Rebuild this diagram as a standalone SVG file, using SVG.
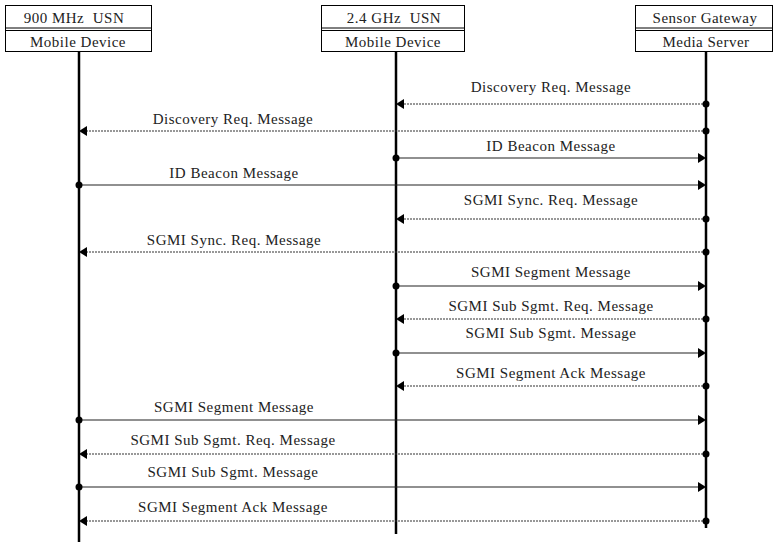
<svg xmlns="http://www.w3.org/2000/svg" width="773" height="542" viewBox="0 0 773 542">
<style>
text{font-family:"Liberation Serif","Times New Roman",serif;font-size:15px;letter-spacing:0.5px;fill:#222;text-anchor:middle}
.box{fill:#fff;stroke:#000;stroke-width:1}
.life{stroke:#000;stroke-width:2.5}
.sol{stroke:#222;stroke-width:1.2;fill:none}
.dot{stroke:#333;stroke-width:1.2;stroke-dasharray:2 1;fill:none}
.hd{fill:#000}
.dt{fill:#000}
</style>
<defs>
<path id="ar" d="M0,-5 L8,0 L0,5 Z" class="hd"/>
<path id="al" d="M0,-5 L-8,0 L0,5 Z" class="hd"/>
</defs>
<g id="node-900">
<rect class="box" x="5.5" y="5.5" width="146" height="46"/>
<line x1="5.5" y1="28" x2="151.5" y2="28" stroke="#000"/>
<line x1="5.5" y1="30.5" x2="151.5" y2="30.5" stroke="#000"/>
<text x="74" y="23" letter-spacing="0.2">900 MHz&#160; USN</text>
<text x="78" y="47">Mobile Device</text>
<line class="life" x1="79" y1="51.5" x2="79" y2="542"/>
</g>
<g id="node-24">
<rect class="box" x="321.5" y="5.5" width="143" height="46"/>
<line x1="321.5" y1="28" x2="464.5" y2="28" stroke="#000"/>
<line x1="321.5" y1="30.5" x2="464.5" y2="30.5" stroke="#000"/>
<text x="394" y="23" letter-spacing="0.2">2.4 GHz&#160; USN</text>
<text x="393" y="47">Mobile Device</text>
<line class="life" x1="396" y1="51.5" x2="396" y2="534"/>
</g>
<g id="node-gw">
<rect class="box" x="635.5" y="5.5" width="137" height="46"/>
<line x1="635.5" y1="28" x2="772.5" y2="28" stroke="#000"/>
<line x1="635.5" y1="30.5" x2="772.5" y2="30.5" stroke="#000"/>
<text x="705" y="23">Sensor Gateway</text>
<text x="706" y="47">Media Server</text>
<line class="life" x1="706" y1="51.5" x2="706" y2="528"/>
</g>
<g id="connectors">
<line class="dot" x1="706" y1="104" x2="404" y2="104"/><use href="#al" x="404" y="104"/><circle class="dt" cx="706" cy="104" r="3.5"/>
<text x="551" y="92">Discovery Req. Message</text>
<line class="dot" x1="706" y1="131" x2="87" y2="131"/><use href="#al" x="87" y="131"/><circle class="dt" cx="706" cy="131" r="3.5"/>
<text x="233" y="124">Discovery Req. Message</text>
<line class="sol" x1="396" y1="158" x2="698" y2="158"/><use href="#ar" x="698" y="158"/><circle class="dt" cx="396" cy="158" r="3.5"/>
<text x="551" y="151">ID Beacon Message</text>
<line class="sol" x1="79" y1="185" x2="698" y2="185"/><use href="#ar" x="698" y="185"/><circle class="dt" cx="79" cy="185" r="3.5"/>
<text x="234" y="178">ID Beacon Message</text>
<line class="dot" x1="706" y1="219" x2="404" y2="219"/><use href="#al" x="404" y="219"/><circle class="dt" cx="706" cy="219" r="3.5"/>
<text x="551" y="205">SGMI Sync. Req. Message</text>
<line class="dot" x1="706" y1="252" x2="87" y2="252"/><use href="#al" x="87" y="252"/><circle class="dt" cx="706" cy="252" r="3.5"/>
<text x="234" y="245">SGMI Sync. Req. Message</text>
<line class="sol" x1="396" y1="286" x2="698" y2="286"/><use href="#ar" x="698" y="286"/><circle class="dt" cx="396" cy="286" r="3.5"/>
<text x="551" y="277">SGMI Segment Message</text>
<line class="dot" x1="706" y1="319" x2="404" y2="319"/><use href="#al" x="404" y="319"/><circle class="dt" cx="706" cy="319" r="3.5"/>
<text x="551" y="311">SGMI Sub Sgmt. Req. Message</text>
<line class="sol" x1="396" y1="353" x2="698" y2="353"/><use href="#ar" x="698" y="353"/><circle class="dt" cx="396" cy="353" r="3.5"/>
<text x="551" y="338">SGMI Sub Sgmt. Message</text>
<line class="dot" x1="706" y1="386" x2="404" y2="386"/><use href="#al" x="404" y="386"/><circle class="dt" cx="706" cy="386" r="3.5"/>
<text x="551" y="378">SGMI Segment Ack Message</text>
<line class="sol" x1="79" y1="420" x2="698" y2="420"/><use href="#ar" x="698" y="420"/><circle class="dt" cx="79" cy="420" r="3.5"/>
<text x="234" y="412">SGMI Segment Message</text>
<line class="dot" x1="706" y1="454" x2="87" y2="454"/><use href="#al" x="87" y="454"/><circle class="dt" cx="706" cy="454" r="3.5"/>
<text x="233" y="445">SGMI Sub Sgmt. Req. Message</text>
<line class="sol" x1="79" y1="487" x2="698" y2="487"/><use href="#ar" x="698" y="487"/><circle class="dt" cx="79" cy="487" r="3.5"/>
<text x="233" y="477">SGMI Sub Sgmt. Message</text>
<line class="dot" x1="706" y1="521" x2="87" y2="521"/><use href="#al" x="87" y="521"/><circle class="dt" cx="706" cy="521" r="3.5"/>
<text x="233" y="512">SGMI Segment Ack Message</text>
</g>
</svg>
